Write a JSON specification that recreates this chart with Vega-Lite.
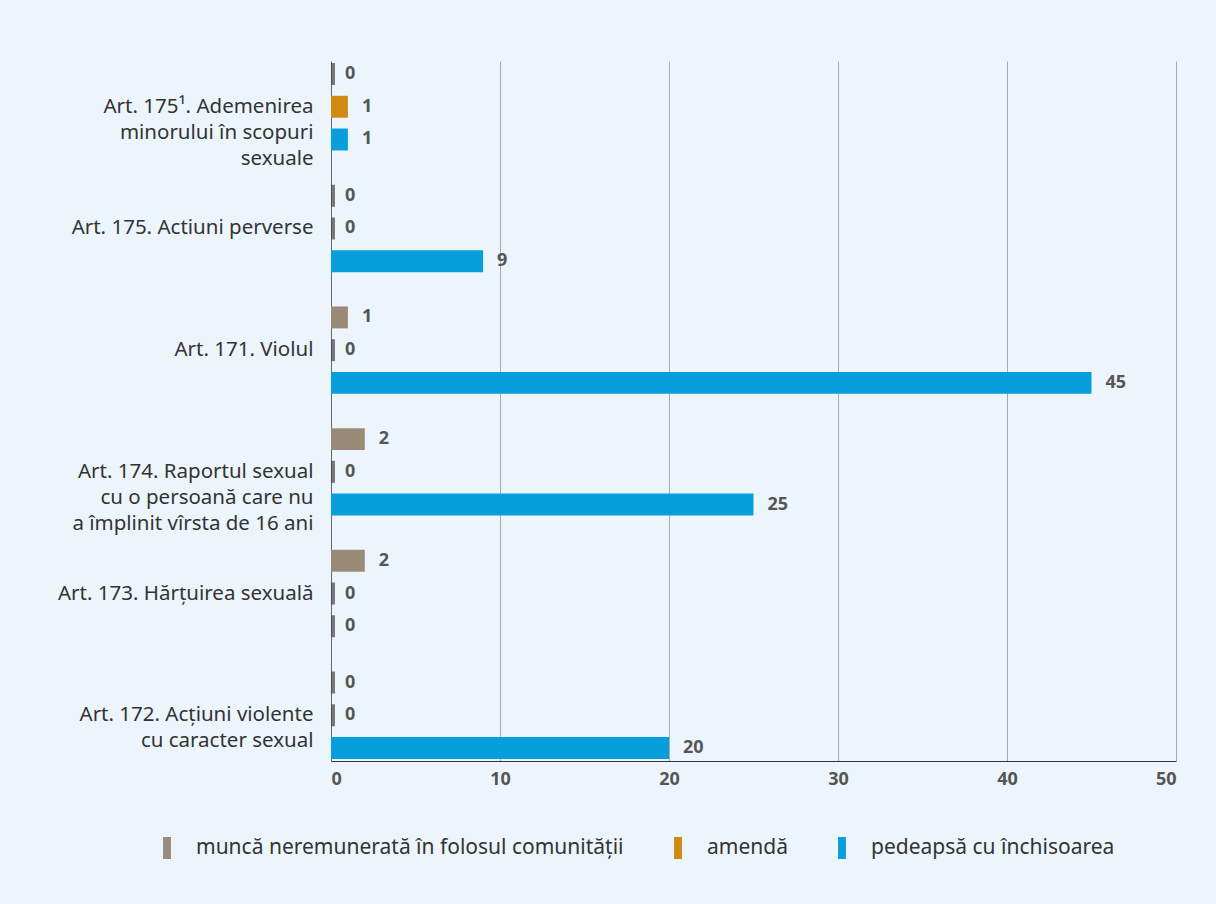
{
  "$schema": "https://vega.github.io/schema/vega-lite/v6.json",
  "width": 845,
  "height": 700,
  "autosize": {"type": "none"},
  "padding": {"left": 331, "top": 61, "right": 40, "bottom": 143},
  "background": "#EDF5FC",
  "config": {"view": {"stroke": null}, "font": "Noto Sans"},
  "data": {
    "values": [
      {"article": "Art. 175¹. Ademenirea|minorului în scopuri|sexuale", "series": "muncă neremunerată în folosul comunității", "value": 0},
      {"article": "Art. 175¹. Ademenirea|minorului în scopuri|sexuale", "series": "amendă", "value": 1},
      {"article": "Art. 175¹. Ademenirea|minorului în scopuri|sexuale", "series": "pedeapsă cu închisoarea", "value": 1},
      {"article": "Art. 175. Actiuni perverse", "series": "muncă neremunerată în folosul comunității", "value": 0},
      {"article": "Art. 175. Actiuni perverse", "series": "amendă", "value": 0},
      {"article": "Art. 175. Actiuni perverse", "series": "pedeapsă cu închisoarea", "value": 9},
      {"article": "Art. 171. Violul", "series": "muncă neremunerată în folosul comunității", "value": 1},
      {"article": "Art. 171. Violul", "series": "amendă", "value": 0},
      {"article": "Art. 171. Violul", "series": "pedeapsă cu închisoarea", "value": 45},
      {"article": "Art. 174. Raportul sexual|cu o persoană care nu|a împlinit vîrsta de 16 ani", "series": "muncă neremunerată în folosul comunității", "value": 2},
      {"article": "Art. 174. Raportul sexual|cu o persoană care nu|a împlinit vîrsta de 16 ani", "series": "amendă", "value": 0},
      {"article": "Art. 174. Raportul sexual|cu o persoană care nu|a împlinit vîrsta de 16 ani", "series": "pedeapsă cu închisoarea", "value": 25},
      {"article": "Art. 173. Hărțuirea sexuală", "series": "muncă neremunerată în folosul comunității", "value": 2},
      {"article": "Art. 173. Hărțuirea sexuală", "series": "amendă", "value": 0},
      {"article": "Art. 173. Hărțuirea sexuală", "series": "pedeapsă cu închisoarea", "value": 0},
      {"article": "Art. 172. Acțiuni violente|cu caracter sexual", "series": "muncă neremunerată în folosul comunității", "value": 0},
      {"article": "Art. 172. Acțiuni violente|cu caracter sexual", "series": "amendă", "value": 0},
      {"article": "Art. 172. Acțiuni violente|cu caracter sexual", "series": "pedeapsă cu închisoarea", "value": 20}
    ]
  },
  "encoding": {
    "y": {
      "field": "article",
      "type": "nominal",
      "sort": null,
      "scale": {"paddingInner": 0.282, "paddingOuter": 0.017},
      "axis": {
        "title": null,
        "domain": true,
        "domainColor": "#666666",
        "ticks": false,
        "grid": false,
        "labelPadding": 18,
        "labelFontSize": 20.5,
        "labelColor": "#333333",
        "labelLineHeight": 26,
        "labelLimit": 0,
        "labelExpr": "split(datum.label, '|')"
      }
    },
    "yOffset": {
      "field": "series",
      "type": "nominal",
      "sort": ["muncă neremunerată în folosul comunității", "amendă", "pedeapsă cu închisoarea"],
      "scale": {"paddingInner": 0.33}
    }
  },
  "layer": [
    {
      "transform": [{"filter": "datum.value > 0"}],
      "mark": {"type": "bar"},
      "encoding": {
        "x": {
          "field": "value",
          "type": "quantitative",
          "scale": {"domain": [0, 50]},
          "axis": {
            "title": null,
            "values": [0, 10, 20, 30, 40, 50],
            "domain": true,
            "domainColor": "#333333",
            "ticks": false,
            "grid": true,
            "gridColor": "#aaaaaa",
            "labelPadding": 9,
            "labelFontSize": 18,
            "labelFontWeight": "bold",
            "labelColor": "#555555"
          }
        },
        "color": {
          "field": "series",
          "type": "nominal",
          "scale": {
            "domain": ["muncă neremunerată în folosul comunității", "amendă", "pedeapsă cu închisoarea"],
            "range": ["#9A8B78", "#CF8A12", "#079FDB"]
          },
          "legend": {
            "title": null,
            "orient": "none",
            "direction": "horizontal",
            "legendX": -175,
            "legendY": 776,
            "symbolType": "M-0.36,-1H0.36V1H-0.36Z",
            "symbolSize": 484,
            "symbolStrokeWidth": 0,
            "labelFontSize": 21,
            "labelColor": "#333333",
            "labelOffset": 18,
            "columnPadding": 43,
            "labelLimit": 0
          }
        }
      }
    },
    {
      "transform": [{"filter": "datum.value == 0"}],
      "mark": {"type": "tick", "orient": "vertical", "thickness": 4, "size": 22, "color": "#444444", "xOffset": 2},
      "encoding": {
        "x": {"field": "value", "type": "quantitative"}
      }
    },
    {
      "mark": {"type": "text", "align": "left", "dx": 14, "fontWeight": "bold", "fontSize": 18, "color": "#555555"},
      "encoding": {
        "x": {"field": "value", "type": "quantitative"},
        "text": {"field": "value", "type": "quantitative"}
      }
    }
  ]
}
